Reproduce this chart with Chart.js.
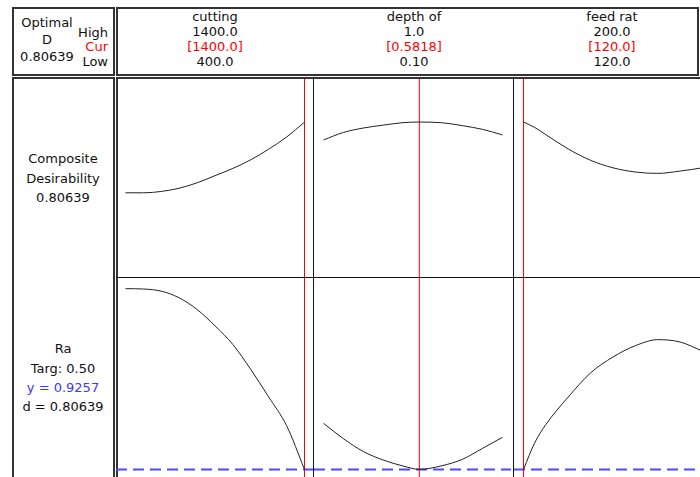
<!DOCTYPE html>
<html>
<head>
<meta charset="utf-8">
<script src="https://cdn.jsdelivr.net/npm/chart.js@4"></script>
<style>
  body { margin: 0; width: 700px; height: 477px; overflow: hidden; background: #fff; position: relative;
         font-family: "DejaVu Sans", sans-serif; font-size: 13px; color: #111; }
  .box { position: absolute; box-sizing: border-box; border: 2px solid #333; }
  .line { position: absolute; background: #111; }
  .txt { position: absolute; height: 16px; line-height: 16px; white-space: nowrap; text-align: center; }
  canvas { position: absolute; }
</style>
</head>
<body>
<div id="page"></div>
<script>
// factors (columns)
let factorNames = ['cutting', 'depth of', 'feed rat'];
let factorLow = [400, 0.1, 120];
let factorHigh = [1400, 1.0, 200];
let factorCur = [1400, 0.5818, 120];
let highLabels = ['1400.0', '1.0', '200.0'];
let curLabels = ['[1400.0]', '[0.5818]', '[120.0]'];
let lowLabels = ['400.0', '0.10', '120.0'];

// curves
let cuttingX = [400, 500, 600, 700, 800, 900, 1000, 1100, 1200, 1300, 1400];
let cuttingD = [0.438, 0.438, 0.445, 0.462, 0.490, 0.527, 0.565, 0.610, 0.665, 0.728, 0.806];
let cuttingRa = [2.010, 2.008, 1.995, 1.955, 1.885, 1.787, 1.675, 1.525, 1.360, 1.188, 0.926];

let depthX = [0.1, 0.2, 0.3, 0.4, 0.5, 0.5818, 0.7, 0.8, 0.9, 1.0];
let depthD = [0.713, 0.752, 0.775, 0.790, 0.803, 0.806, 0.802, 0.787, 0.768, 0.739];
let depthRa = [1.202, 1.110, 1.033, 0.982, 0.946, 0.926, 0.949, 0.987, 1.052, 1.118];

let feedX = [120, 125, 130, 140, 150, 160, 170, 180, 190, 200];
let feedD = [0.806, 0.778, 0.740, 0.666, 0.607, 0.568, 0.546, 0.539, 0.551, 0.568];
let feedRa = [0.926, 1.085, 1.195, 1.360, 1.505, 1.600, 1.668, 1.704, 1.690, 1.635];

let optimalD = '0.80639';
let raTarget = '0.50';
let raY = 0.9257;
let raD = '0.80639';

let curveX = [cuttingX, depthX, feedX];
let curveD = [cuttingD, depthD, feedD];
let curveRa = [cuttingRa, depthRa, feedRa];

// low..high sits between pixel 9.5 and 188.5 of each 197px panel
let panelLeft = [116, 314, 514];
let panelWidth = 197;
let rows = [
  { top: 79, height: 198, yMin: 0, yMax: 1.03, values: curveD, target: null },
  { top: 278, height: 199, yMin: 0.88, yMax: 2.074, values: curveRa, target: raY }
];

function txt(text, cx, cy, color) {
  return `<div class="txt" style="left:${cx - 70}px;top:${cy - 8}px;width:140px;color:${color || '#111'}">${text}</div>`;
}

function renderFrame() {
  let html = '';
  html += `<div class="box" style="left:12px;top:7px;width:103px;height:69px"></div>`;
  html += `<div class="box" style="left:116px;top:7px;width:583px;height:69px"></div>`;
  html += `<div class="box" style="left:12px;top:77px;width:103px;height:420px"></div>`;
  html += `<div class="box" style="left:116px;top:77px;width:640px;height:420px"></div>`;
  html += `<div class="line" style="left:116px;top:277px;width:600px;height:1px"></div>`;
  html += `<div class="line" style="left:313px;top:77px;width:1px;height:400px"></div>`;
  html += `<div class="line" style="left:513px;top:77px;width:1px;height:400px"></div>`;

  html += txt('Optimal', 47, 23) + txt('D', 47, 40) + txt(optimalD, 47, 57);
  html += `<div class="txt" style="left:48px;top:25px;width:60px;text-align:right">High</div>`;
  html += `<div class="txt" style="left:48px;top:39px;width:60px;text-align:right;color:red">Cur</div>`;
  html += `<div class="txt" style="left:48px;top:54px;width:60px;text-align:right">Low</div>`;

  for (let i = 0; i < factorNames.length; i++) {
    let cx = [215, 414, 612][i];
    html += txt(factorNames[i], cx, 17) + txt(highLabels[i], cx, 32);
    html += txt(curLabels[i], cx, 46.5, 'red') + txt(lowLabels[i], cx, 61.5);
  }

  html += txt('Composite', 63, 159) + txt('Desirability', 63, 179) + txt(optimalD, 63, 198);
  html += txt('Ra', 63, 349) + txt('Targ: ' + raTarget, 63, 369);
  html += txt('y = ' + raY.toFixed(4), 63, 388, '#3a3aff') + txt('d = ' + raD, 63, 407);

  document.getElementById('page').innerHTML = html;
}

function renderPanel(i, row) {
  let canvas = document.createElement('canvas');
  canvas.width = panelWidth;
  canvas.height = row.height;
  canvas.style.left = panelLeft[i] + 'px';
  canvas.style.top = row.top + 'px';
  document.body.appendChild(canvas);

  let range = factorHigh[i] - factorLow[i];
  let xMin = factorLow[i] - range * 9.5 / 179;
  let xMax = factorHigh[i] + range * 8.5 / 179;
  let xs = curveX[i];
  let ys = row.values[i];

  let datasets = [{
    data: xs.map((x, j) => ({ x: x, y: ys[j] })),
    borderColor: '#222',
    borderWidth: 1,
    cubicInterpolationMode: 'monotone'
  }, {
    data: [{ x: factorCur[i], y: row.yMin }, { x: factorCur[i], y: row.yMax }],
    borderColor: '#ff0000',
    borderWidth: 1
  }];
  if (row.target != null) {
    datasets.push({
      data: [{ x: xMin, y: row.target }, { x: xMax, y: row.target }],
      borderColor: '#4a4aff',
      borderWidth: 2,
      borderDash: [11, 6]
    });
  }

  new Chart(canvas, {
    type: 'line',
    data: { datasets: datasets },
    options: {
      responsive: false,
      animation: false,
      events: [],
      layout: { padding: 0 },
      elements: { point: { radius: 0 } },
      plugins: { legend: { display: false }, tooltip: { enabled: false } },
      scales: {
        x: { type: 'linear', display: false, min: xMin, max: xMax },
        y: { type: 'linear', display: false, min: row.yMin, max: row.yMax }
      }
    }
  });
}

renderFrame();
for (let r = 0; r < rows.length; r++) {
  for (let i = 0; i < factorNames.length; i++) {
    renderPanel(i, rows[r]);
  }
}
</script>
</body>
</html>
